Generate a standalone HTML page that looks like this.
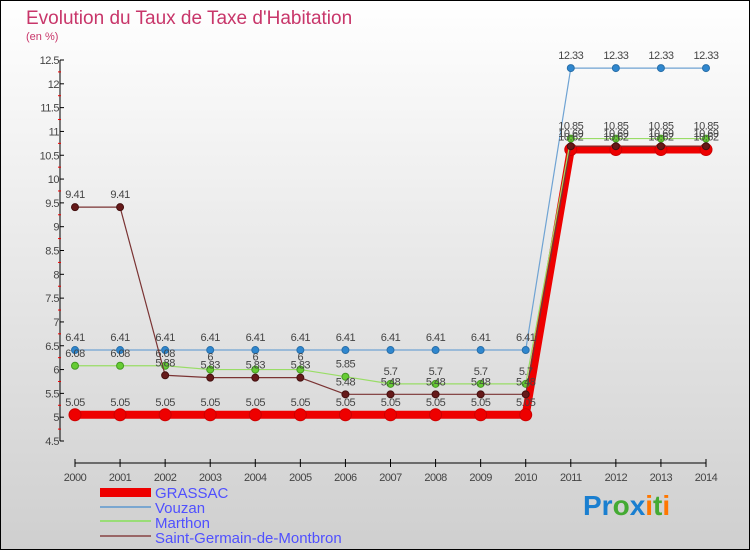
<!DOCTYPE html>
<html><head><meta charset="utf-8"><style>
html,body{margin:0;padding:0}
body{width:750px;height:550px;overflow:hidden;font-family:"Liberation Sans",sans-serif}
svg{display:block}
</style></head><body>
<svg id="chart" width="750" height="550" xmlns="http://www.w3.org/2000/svg">
<defs><linearGradient id="bg" x1="0" y1="0" x2="0" y2="1"><stop offset="0" stop-color="#ffffff"/><stop offset="1" stop-color="#cfcfcf"/></linearGradient></defs>
<rect x="0.5" y="0.5" width="749" height="549" fill="url(#bg)" stroke="#000" stroke-width="1"/>
<text x="26" y="24" font-size="19" fill="#c8366a">Evolution du Taux de Taxe d'Habitation</text>
<text x="26" y="40" font-size="11" fill="#c8366a">(en %)</text>
<g id="axes"></g><g id="series"></g><g id="labels"></g>
<g font-size="15" fill="#5050ff">
<rect x="100" y="488" width="51" height="9" fill="#ee0000"/>
<text x="155" y="498" fill="#5050ff">GRASSAC</text>
<line x1="100" y1="507" x2="151" y2="507" stroke="#7aa7d0" stroke-width="2"/>
<text x="155" y="513" fill="#5050ff">Vouzan</text>
<line x1="100" y1="521" x2="151" y2="521" stroke="#99dd77" stroke-width="2"/>
<text x="155" y="528" fill="#5050ff">Marthon</text>
<line x1="100" y1="536" x2="151" y2="536" stroke="#996666" stroke-width="2"/>
<text x="155" y="543" fill="#5050ff">Saint-Germain-de-Montbron</text>
</g>
<g font-size="28" font-weight="bold">
<text x="583" y="515"><tspan fill="#1a7fd0">Pr</tspan><tspan fill="#44aa33">o</tspan><tspan fill="#1a7fd0">x</tspan><tspan fill="#ff7700">i</tspan><tspan fill="#44aa33">t</tspan><tspan fill="#ff7700">i</tspan></text>
</g>
</svg>
<script>
const years=[2000,2001,2002,2003,2004,2005,2006,2007,2008,2009,2010,2011,2012,2013,2014];
const yTicks=[4.5,5,5.5,6,6.5,7,7.5,8,8.5,9,9.5,10,10.5,11,11.5,12,12.5];
const grassac=[5.05,5.05,5.05,5.05,5.05,5.05,5.05,5.05,5.05,5.05,5.05,10.62,10.62,10.62,10.62];
const vouzan=[6.41,6.41,6.41,6.41,6.41,6.41,6.41,6.41,6.41,6.41,6.41,12.33,12.33,12.33,12.33];
const marthon=[6.08,6.08,6.08,6,6,6,5.85,5.7,5.7,5.7,5.7,10.85,10.85,10.85,10.85];
const stGermain=[9.41,9.41,5.88,5.83,5.83,5.83,5.48,5.48,5.48,5.48,5.48,10.69,10.69,10.69,10.69];
const NS="http://www.w3.org/2000/svg";
const X0=75,X1=706,Y0=441,Y1=60,VMIN=4.5,VMAX=12.5;
function xs(i){return X0+(X1-X0)*i/(years.length-1);}
function ys(v){return Y0-(v-VMIN)/(VMAX-VMIN)*(Y0-Y1);}
function mk(tag,attrs,parent){const e=document.createElementNS(NS,tag);for(const k in attrs)e.setAttribute(k,attrs[k]);parent.appendChild(e);return e;}
const axes=document.getElementById('axes'),series=document.getElementById('series'),labels=document.getElementById('labels');
let e=mk('line',{x1:60,y1:Y1,x2:60,y2:Y0,stroke:'#000','stroke-width':1},axes);


yTicks.forEach((t,i)=>{
 const y=ys(t);
 mk('line',{x1:60,y1:y,x2:64,y2:y,stroke:'#000'},axes);
 if(i<yTicks.length-1){mk('line',{x1:58,y1:ys(t+0.25),x2:61,y2:ys(t+0.25),stroke:'#e00'},axes);}
 const tx=mk('text',{x:59,y:y+4,'font-size':11,fill:'#444','text-anchor':'end','letter-spacing':'-0.5'},axes);
 tx.textContent=String(t);
 
 
});
e=mk('line',{x1:X0,y1:463,x2:X1,y2:463,stroke:'#000','stroke-width':1},axes);


years.forEach((yr,i)=>{
 const x=xs(i);
 mk('line',{x1:x,y1:459,x2:x,y2:467,stroke:'#000'},axes);
 const tx=mk('text',{x:x,y:481,'font-size':11,fill:'#444','text-anchor':'middle','letter-spacing':'-0.5'},axes);
 tx.textContent=String(yr);
 
 
});
function draw(vals,name,color,w,dotR,dotFill,dotStroke){
 const pts=vals.map((v,i)=>xs(i)+','+ys(v)).join(' ');
 const pl=mk('polyline',{points:pts,fill:'none',stroke:color,'stroke-width':w,'stroke-linejoin':'round'},series);
 
 
 vals.forEach((v,i)=>{
  const c=mk('circle',{cx:xs(i),cy:ys(v),r:dotR,fill:dotFill,stroke:dotStroke,'stroke-width':1},series);
  
  
  const t=mk('text',{x:xs(i),y:ys(v)-9,'font-size':11,fill:'#444','text-anchor':'middle','letter-spacing':'-0.5'},labels);
  t.textContent=String(v);
  
  
 });
}
draw(grassac,'grassac','#ee0000',8,6,'#ee0000','#cc0000');
draw(vouzan,'vouzan','#6fa3d3',1.2,3.5,'#2f87cf','#2a6fa8');
draw(marthon,'marthon','#99dd66',1.2,3.5,'#66cc33','#449922');
draw(stGermain,'saint-germain','#7a3333',1.2,3.5,'#661a1a','#441010');
</script>
</body></html>
